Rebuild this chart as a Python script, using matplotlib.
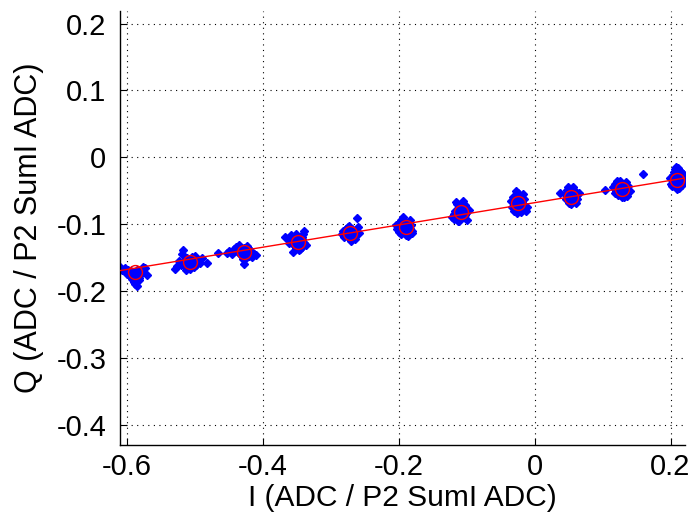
import numpy as np
import matplotlib
matplotlib.use("Agg")
import matplotlib.pyplot as plt

plt.rcParams['font.family'] = ['Liberation Sans', 'DejaVu Sans']

# cluster centres (I, Q)
center_I = [-0.588, -0.507, -0.428, -0.349, -0.272, -0.190, -0.109, -0.024, 0.054, 0.128, 0.209]
center_Q = [-0.172, -0.157, -0.142, -0.127, -0.113, -0.104, -0.082, -0.069, -0.059, -0.048, -0.034]

# per-cluster scatter offsets, in thousandths
off_I = [
    [-24,-22,-19,-15,-12,-10,-8,-6,-5,-4,-3,-2,-1,0,1,2,3,4,5,6,8,10,12,14,17,-7,0,5],
    [-20,-17,-14,-12,-9,-7,-5,-4,-3,-2,-1,0,1,2,3,4,5,6,7,9,11,14,18,-6,0,4,-10,8],
    [-22,-18,-14,-11,-9,-7,-5,-4,-3,-2,-1,0,1,2,3,4,5,6,7,8,10,12,15,18,-6,0,3,-1],
    [-18,-14,-10,-8,-6,-5,-4,-3,-2,-1,0,1,2,3,4,5,6,7,8,10,12,-12,-3,2,6,9,0,-7],
    [-12,-10,-8,-6,-5,-4,-3,-2,-1,0,1,2,3,4,5,6,7,8,10,12,14,-9,-2,3,6,-6,1,9],
    [-14,-12,-10,-8,-6,-5,-4,-3,-2,-1,0,1,2,3,4,5,6,7,8,10,-9,-4,3,9,0,-7,6,-11],
    [-13,-10,-8,-6,-5,-4,-3,-2,-1,0,1,2,3,4,5,6,7,8,10,12,-7,-2,3,7,-4,0,5,-9],
    [-11,-9,-8,-6,-5,-4,-3,-2,-1,0,1,2,3,4,5,6,7,8,9,11,13,-7,-2,4,-4,2,6,0],
    [-16,-10,-8,-6,-5,-4,-3,-2,-1,0,1,2,3,4,5,6,7,8,9,11,-7,-3,2,6,-5,0,4,1],
    [-13,-10,-8,-7,-6,-4,-3,-2,-1,0,1,2,3,4,5,6,7,8,10,12,-5,-2,3,-9,1,6,-4,0],
    [-10,-8,-6,-5,-4,-3,-2,-1,0,1,2,3,4,5,6,7,8,9,11,-7,-3,3,6,-5,0,2,10,-1],
]
off_Q = [
    [5,8,3,6,-2,4,-6,2,-10,-4,0,-14,-18,-8,-3,3,-20,-6,1,-12,-2,4,8,6,-4,-1,-5,-9],
    [-6,2,-4,12,-1,4,-8,6,0,-3,-10,2,-5,8,-2,4,-7,1,10,-4,3,-1,7,-12,-6,-3,18,5],
    [2,-3,5,8,0,10,-2,4,-6,1,-4,6,-1,3,-8,0,9,-3,5,-5,2,-7,-2,-4,-1,-18,1,-10],
    [8,5,10,2,-3,4,-6,1,-9,5,-2,6,-5,3,-10,0,4,-7,12,16,-4,-1,12,-12,8,-2,0,-14],
    [-2,3,-6,1,5,-3,8,-8,2,-5,4,-1,6,-4,0,3,-7,-10,22,8,0,-4,10,-9,-2,5,-12,2],
    [2,-4,6,-2,10,3,-6,8,0,-3,5,-8,1,-5,7,-1,10,-4,3,-6,-8,14,-14,-10,-12,-11,-3,0],
    [-8,-3,2,-6,12,4,-10,8,0,-4,6,-2,3,-8,1,-5,10,-1,-12,3,15,-14,16,-3,-13,-7,4,-10],
    [4,-5,10,0,-8,6,-3,12,2,-6,8,-1,4,-9,1,-4,14,6,-2,-11,-5,-12,-15,-13,18,-10,0,16],
    [6,4,-4,10,1,-6,8,-2,3,-8,12,0,-5,6,-1,3,-9,2,-4,5,-3,-10,14,8,15,-11,-7,1],
    [4,8,-3,12,0,6,-6,10,2,-4,4,-8,1,-3,7,-6,2,-10,5,-2,-9,13,-11,-6,-12,11,3,0],
    [3,-6,8,-2,12,-8,4,-4,1,10,-10,6,-3,14,-1,5,-7,9,2,-9,16,-12,12,0,-14,18,-4,20],
]

# isolated points
stray_I = [-0.612, -0.605, -0.530, -0.482, -0.466, -0.453, 0.103, 0.160]
stray_Q = [-0.165, -0.168, -0.167, -0.158, -0.143, -0.143, -0.049, -0.025]

# linear fit endpoints
fit_I = [-0.61, 0.228]
fit_Q = [-0.1695, -0.030]

xticks = [-0.6, -0.4, -0.2, 0, 0.2]
yticks = [-0.4, -0.3, -0.2, -0.1, 0, 0.1, 0.2]

fig = plt.figure(figsize=(6.91, 5.22), dpi=100)
ax = fig.add_axes([0.174, 0.148, 0.818, 0.83])

allI, allQ = [], []
for ci, cq, oi, oq in zip(center_I, center_Q, off_I, off_Q):
    for a, b in zip(oi, oq):
        allI.append(ci + a / 1000.0)
        allQ.append(cq + b / 1000.0)
allI += stray_I
allQ += stray_Q

ax.plot(allI, allQ, linestyle='none', marker='D', markersize=4.5,
        markerfacecolor='#0000ff', markeredgecolor='#0000ff', zorder=2)
ax.plot(fit_I, fit_Q, color='#ff0000', linewidth=1, zorder=3)
ax.plot(center_I, center_Q, linestyle='none', marker='o', markersize=10,
        markerfacecolor='none', markeredgecolor='#ff0000', markeredgewidth=1, zorder=4)

ax.set_xlim(-0.61, 0.222)
ax.set_ylim(-0.43, 0.218)
ax.set_xticks(xticks)
ax.set_yticks(yticks)
ax.set_xticklabels(['-0.6', '-0.4', '-0.2', '0', '0.2'])
ax.set_yticklabels(['-0.4', '-0.3', '-0.2', '-0.1', '0', '0.1', '0.2'])
ax.grid(True, linestyle=(0, (1, 4)), color='black', linewidth=0.8)
ax.set_axisbelow(True)
for s in ['top', 'right']:
    ax.spines[s].set_visible(False)
ax.spines['left'].set_linewidth(1)
ax.spines['bottom'].set_linewidth(1)
ax.tick_params(direction='in', length=5, labelsize=21)
ax.tick_params(axis='y', pad=10)
ax.tick_params(axis='x', pad=6)
ax.set_xlabel('I (ADC / P2 SumI ADC)', fontsize=21.5, labelpad=2)
ax.set_ylabel('Q (ADC / P2 SumI ADC)', fontsize=22, labelpad=9)

fig.savefig('out.png', dpi=100)
